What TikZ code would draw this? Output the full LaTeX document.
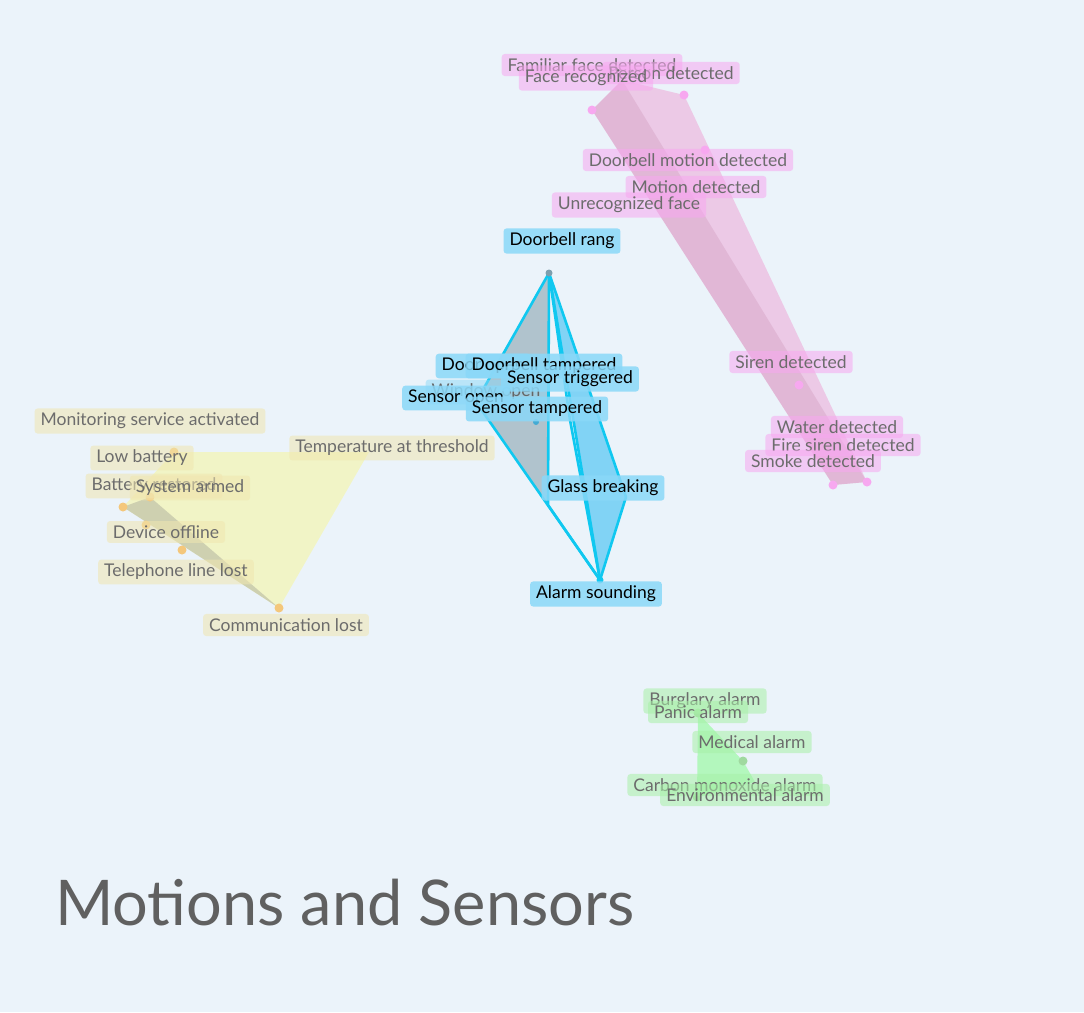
\documentclass[tikz,border=0pt]{standalone}
\usepackage{fontspec}
\setmainfont{Lato}
\begin{document}
\begin{tikzpicture}[x=1pt,y=-1pt,
  lab/.style={rounded corners=3pt,inner xsep=6pt,inner ysep=4.5pt,font=\fontsize{17.5}{17.5}\selectfont,fill opacity=0.55,text opacity=1},
  mlab/.style={lab,fill=mag,text=gray!85!black},
  ylab/.style={lab,fill=yel,text=gray!85!black},
  glab/.style={lab,fill=grn,text=gray!85!black},
  blab/.style={lab,fill=sky,text=black,fill opacity=0.85},
  pt/.style={circle,inner sep=0pt,minimum size=9pt},
  bl/.style={draw=cyn,line width=2.6pt,line join=round}]
\definecolor{bg}{HTML}{EBF3FA}
\definecolor{mag}{HTML}{F7A8F0}
\definecolor{yel}{HTML}{F0E6B0}
\definecolor{grn}{HTML}{A8F0A8}
\definecolor{sky}{HTML}{8AD8F8}
\definecolor{cyn}{HTML}{10C8F0}
\fill[bg] (0,0) rectangle (1084,1012);
\useasboundingbox (0,0) rectangle (1084,1012);
% magenta
\coordinate (m1) at (592,110);\coordinate (m2) at (622,80);\coordinate (m3) at (684,95);
\coordinate (m4) at (867,482);\coordinate (m5) at (833,485);
\fill[magenta!70,opacity=0.25] (m1)--(m2)--(m3)--(m4)--(m5)--cycle;
\fill[gray!60!magenta,opacity=0.2] (m1)--(m2)--(m4)--(m5)--cycle;
% yellow
\coordinate (y1) at (174,452);\coordinate (y2) at (369,452);\coordinate (y3) at (279,608);
\coordinate (y4) at (123,507);\coordinate (y5) at (150,497);
\fill[yellow!60,opacity=0.35] (y1)--(y2)--(y3)--(y4)--cycle;
\fill[gray,opacity=0.3] (y4)--(y5)--(y3)--cycle;
% green
\coordinate (g1) at (698,713);\coordinate (g2) at (743,761);\coordinate (g3) at (755,782);\coordinate (g4) at (697,797);
\fill[green!70,opacity=0.35] (g1)--(g2)--(g3)--(g4)--cycle;
% blue
\coordinate (bA) at (549,273);\coordinate (bL) at (476,402);\coordinate (bP) at (626,497);
\coordinate (bB) at (600,580);\coordinate (bQ) at (548,505);\coordinate (bM) at (570,420);
\fill[gray!75!cyan,opacity=0.55] (bA)--(bL)--(bB)--(bQ)--cycle;
\fill[cyan,opacity=0.45] (bA)--(bP)--(bB)--cycle;
\draw[bl] (bA)--(bL)--(bB)--(bP)--cycle;
\draw[bl] (bA)--(bQ)--(bB);
\draw[bl] (bA)--(bM)--(bB);
\draw[bl] (bA)--(bB);
% points
\foreach \p in {m1,m3,m4,m5} \node[pt,fill=mag] at (\p) {};
\node[pt,fill=mag] (mp1) at (799,385) {};
\node[pt,fill=mag] (mp2) at (705,150) {};
\foreach \p in {y1,y3,y4,y5} \node[pt,fill=yel!70!orange] at (\p) {};
\node[pt,fill=yel!70!orange] (yp1) at (182,550) {};
\node[pt,fill=yel!70!orange] (yp2) at (146,525) {};
\foreach \p in {g1,g2,g4} \node[pt,fill=grn!80!gray] at (\p) {};
\node[pt,fill=cyan!70!gray,minimum size=6pt] (bp1) at (536,422) {};
\node[pt,fill=gray!70!cyan,minimum size=7pt] at (bA) {};
\node[pt,fill=cyn,minimum size=7pt] at (bB) {};
% magenta labels
\node[mlab] (l1) at (592,65) {Familiar face detected};
\node[mlab] (l2) at (671,73) {Person detected};
\node[mlab] (l3) at (586,78) {Face recognized};
\node[mlab] (l4) at (688,160) {Doorbell motion detected};
\node[mlab] (l5) at (696,187) {Motion detected};
\node[mlab] (l6) at (629,205) {Unrecognized face};
\node[mlab] (l7) at (791,362) {Siren detected};
\node[mlab] (l8) at (837,427) {Water detected};
\node[mlab] (l9) at (843,445) {Fire siren detected};
\node[mlab] (l10) at (813,461) {Smoke detected};
% yellow labels
\node[ylab] (y_a) at (150,421) {Monitoring service activated};
\node[ylab] (y_b) at (142,458) {Low battery};
\node[ylab] (y_c) at (392,448) {Temperature at threshold};
\node[ylab] (y_d) at (154,486) {Battery restored};
\node[ylab] (y_e) at (190,488) {System armed};
\node[ylab] (y_f) at (166,532) {Device offline};
\node[ylab] (y_g) at (176,572) {Telephone line lost};
\node[ylab] (y_h) at (286,625) {Communication lost};
% green labels
\node[glab] (g_a) at (705,701) {Burglary alarm};
\node[glab] (g_b) at (698,712) {Panic alarm};
\node[glab] (g_c) at (752,742) {Medical alarm};
\node[glab] (g_d) at (725,785) {Carbon monoxide alarm};
\node[glab] (g_e) at (745,795) {Environmental alarm};
% blue labels
\node[blab] (b1) at (562,241) {Doorbell rang};
\node[blab] (b2) at (483,366) {Door open};
\node[blab,fill opacity=0.5,text=black!60] (b5) at (486,392) {Window open};
\node[blab] (b6) at (456,398) {Sensor open};
\node[blab] (b3) at (544,366) {Doorbell tampered};
\node[blab] (b4) at (570,379) {Sensor triggered};
\node[blab] (b7) at (537,409) {Sensor tampered};
\node[blab] (b8) at (603,488) {Glass breaking};
\node[blab] (b9) at (596,594) {Alarm sounding};
\node[anchor=base west,text=gray!75!black,font=\fontsize{63}{63}\selectfont,inner sep=0pt] (title) at (55,925) {Motions and Sensors};
\end{tikzpicture}
\end{document}
